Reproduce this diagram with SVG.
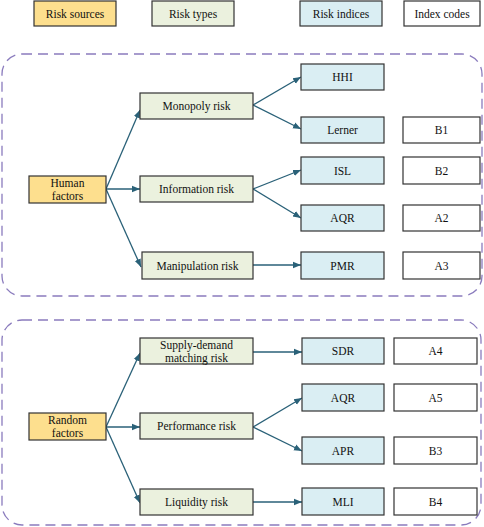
<svg xmlns="http://www.w3.org/2000/svg" width="484" height="527" viewBox="0 0 484 527">
<defs>
<style>
.box{stroke:#333;stroke-width:1.2}
.src{fill:#fddf8e}
.typ{fill:#ebf1de}
.idx{fill:#daeef3}
.code{fill:#fff}
.grp{fill:none;stroke:#8a7bbd;stroke-width:1.3;stroke-dasharray:10 6}
.t text{font-size:11.5px;fill:#111;text-anchor:middle;dominant-baseline:central}
.con{stroke:#2a6178;stroke-width:1.3;fill:none;marker-end:url(#ah)}
</style>
<marker id="ah" viewBox="0 0 10 10" refX="10" refY="5" markerWidth="8" markerHeight="8" markerUnits="userSpaceOnUse" orient="auto">
<path d="M0,1 L10,5 L0,9 z" fill="#2a6178"/>
</marker>
</defs>
<rect width="484" height="527" fill="#fff"/>

<g id="groups">
<rect class="grp" x="2" y="54" width="480" height="242" rx="20"/>
<rect class="grp" x="2" y="320" width="479" height="205" rx="20"/>
</g>

<g id="connectors">
<path class="con" d="M106,189 L140,110"/>
<path class="con" d="M106,189 L140,189"/>
<path class="con" d="M106,189 L141,267"/>
<path class="con" d="M253,105 L301,77"/>
<path class="con" d="M253,105 L301,129"/>
<path class="con" d="M253,189 L301,170"/>
<path class="con" d="M253,189 L301,218"/>
<path class="con" d="M253,265 L301,265"/>
<path class="con" d="M106,427 L140,353"/>
<path class="con" d="M106,427 L140,427"/>
<path class="con" d="M106,427 L140,503"/>
<path class="con" d="M253,352 L302,352"/>
<path class="con" d="M253,427 L302,398"/>
<path class="con" d="M253,427 L302,451"/>
<path class="con" d="M253,502 L302,502"/>
</g>

<g class="t" font-family="'Liberation Serif', 'Times New Roman', 'DejaVu Serif', serif">
<g id="leg-src"><rect class="box src" x="34" y="1" width="82" height="25"/><text x="75" y="14">Risk sources</text></g>
<g id="leg-typ"><rect class="box typ" x="152" y="1" width="82" height="25"/><text x="193" y="14">Risk types</text></g>
<g id="leg-idx"><rect class="box idx" x="300" y="1" width="82" height="25"/><text x="341" y="14">Risk indices</text></g>
<g id="leg-code"><rect class="box code" x="404" y="1" width="76" height="25"/><text x="442" y="14">Index codes</text></g>

<g id="human"><rect class="box src" x="29" y="176" width="77" height="27"/><text x="67.5" y="183">Human</text><text x="67.5" y="196">factors</text></g>
<g id="monopoly"><rect class="box typ" x="140" y="93" width="113" height="26"/><text x="196.5" y="106">Monopoly risk</text></g>
<g id="information"><rect class="box typ" x="140" y="176" width="113" height="26"/><text x="196.5" y="189">Information risk</text></g>
<g id="manipulation"><rect class="box typ" x="142" y="252" width="111" height="27"/><text x="197.5" y="265.5">Manipulation risk</text></g>
<g id="hhi"><rect class="box idx" x="301" y="64" width="83" height="26"/><text x="342.5" y="77">HHI</text></g>
<g id="lerner"><rect class="box idx" x="301" y="117" width="83" height="26"/><text x="342.5" y="130">Lerner</text></g>
<g id="isl"><rect class="box idx" x="301" y="157" width="83" height="27"/><text x="342.5" y="170.5">ISL</text></g>
<g id="aqr1"><rect class="box idx" x="301" y="205" width="83" height="26"/><text x="342.5" y="218">AQR</text></g>
<g id="pmr"><rect class="box idx" x="301" y="252" width="83" height="27"/><text x="342.5" y="265.5">PMR</text></g>
<g id="b1"><rect class="box code" x="403" y="117" width="77" height="26"/><text x="441.5" y="130">B1</text></g>
<g id="b2"><rect class="box code" x="403" y="157" width="77" height="27"/><text x="441.5" y="170.5">B2</text></g>
<g id="a2"><rect class="box code" x="403" y="205" width="77" height="26"/><text x="441.5" y="218">A2</text></g>
<g id="a3"><rect class="box code" x="403" y="252" width="77" height="27"/><text x="441.5" y="265.5">A3</text></g>

<g id="random"><rect class="box src" x="29" y="413" width="77" height="27"/><text x="67.5" y="420">Random</text><text x="67.5" y="433">factors</text></g>
<g id="supply"><rect class="box typ" x="140" y="338" width="113" height="26"/><text x="196.5" y="344.5">Supply-demand</text><text x="196.5" y="357.5">matching risk</text></g>
<g id="performance"><rect class="box typ" x="140" y="413" width="113" height="26"/><text x="196.5" y="426">Performance risk</text></g>
<g id="liquidity"><rect class="box typ" x="140" y="489" width="113" height="26"/><text x="196.5" y="502">Liquidity risk</text></g>
<g id="sdr"><rect class="box idx" x="302" y="338" width="82" height="26"/><text x="343" y="351">SDR</text></g>
<g id="aqr2"><rect class="box idx" x="302" y="384" width="82" height="27"/><text x="343" y="397.5">AQR</text></g>
<g id="apr"><rect class="box idx" x="302" y="437" width="82" height="27"/><text x="343" y="450.5">APR</text></g>
<g id="mli"><rect class="box idx" x="302" y="488" width="82" height="27"/><text x="343" y="501.5">MLI</text></g>
<g id="a4"><rect class="box code" x="394" y="338" width="83" height="26"/><text x="435.5" y="351">A4</text></g>
<g id="a5"><rect class="box code" x="394" y="384" width="83" height="27"/><text x="435.5" y="397.5">A5</text></g>
<g id="b3"><rect class="box code" x="394" y="437" width="83" height="27"/><text x="435.5" y="450.5">B3</text></g>
<g id="b4"><rect class="box code" x="394" y="488" width="83" height="27"/><text x="435.5" y="501.5">B4</text></g>
</g>
</svg>
